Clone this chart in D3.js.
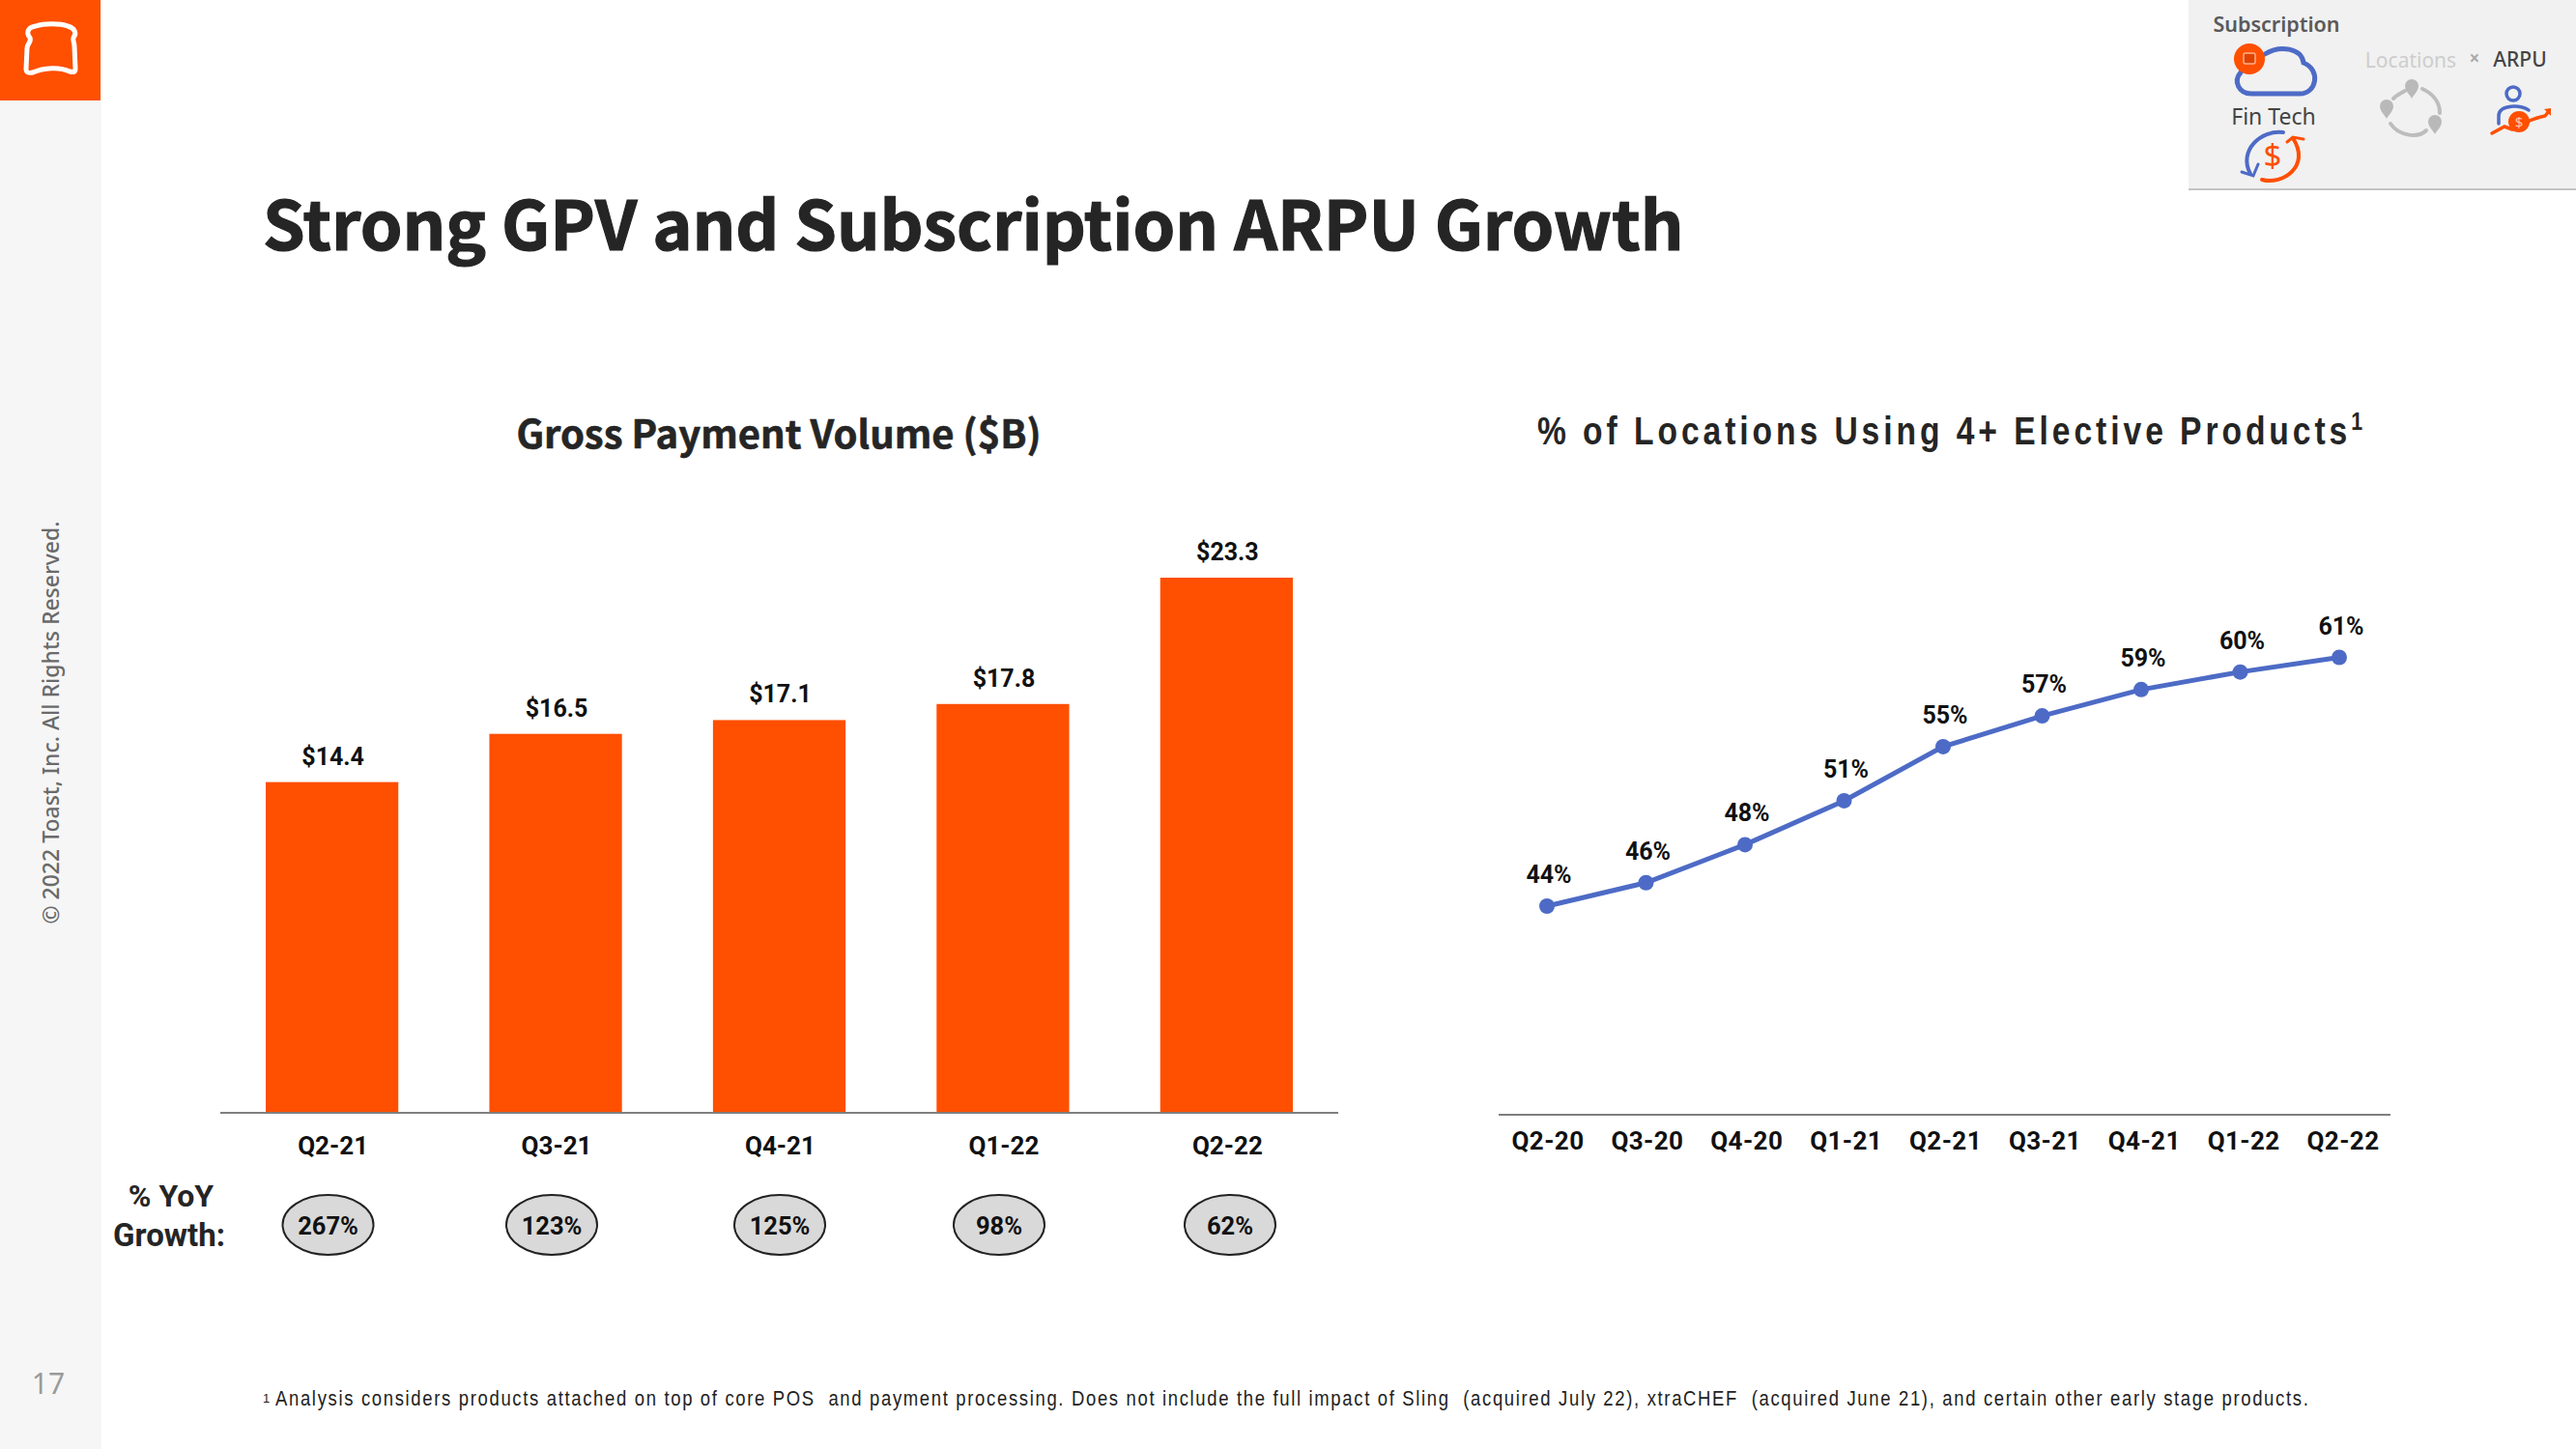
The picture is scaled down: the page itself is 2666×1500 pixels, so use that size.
<!DOCTYPE html>
<html><head><meta charset="utf-8">
<script src="https://cdn.jsdelivr.net/npm/d3@7"></script>
<style>html,body{margin:0;padding:0;background:#fff;overflow:hidden}svg{display:block}</style></head>
<body><svg id="c" width="2666" height="1500"></svg>
<script>
const barCategories=["Q2-21","Q3-21","Q4-21","Q1-22","Q2-22"];
const gpvValues=[14.4,16.5,17.1,17.8,23.3];
const yoyLabels=["267%","123%","125%","98%","62%"];
const lineCategories=["Q2-20","Q3-20","Q4-20","Q1-21","Q2-21","Q3-21","Q4-21","Q1-22","Q2-22"];
const lineValues=[44,45.6,48.2,51.2,54.9,57,58.8,60,61];
const lineLabels=["44%","46%","48%","51%","55%","57%","59%","60%","61%"];

const svg=d3.select("#c");
const ORANGE="#ff4f00",BLUE="#4d6bc6",DARK="#252525";
const SRC="Noto Sans CJK SC";
const txt=(x,y,s,size,o={})=>svg.append("text").attr("x",x).attr("y",y).text(s)
  .attr("font-family",o.font||"Roboto").attr("font-size",size).attr("font-weight",o.w||700)
  .attr("fill",o.fill||"#111").attr("text-anchor",o.a||"middle")
  .attr("letter-spacing",o.ls||null).attr("transform",o.tr||null);

// frame
svg.append("rect").attr("x",0).attr("y",0).attr("width",105).attr("height",1500).attr("fill","#f6f6f6");
svg.append("rect").attr("x",0).attr("y",0).attr("width",104).attr("height",104).attr("fill",ORANGE);
svg.append("path").attr("d","M31 39 C26 33 30 28 37 27 C46 24 62 24 70 27 C77 29 80 34 76 39 C75 42 77 44 77 48 L78 71 C78 75 76 75 72 74 C62 69 45 70 34 75 C29 76 27 75 27 71 L28 50 C28 45 33 43 31 39 Z")
  .attr("fill","none").attr("stroke","#fff").attr("stroke-width",5);
txt(50,1443,"17",30,{w:400,fill:"#9a9a9a",font:"Noto Sans"});
svg.append("text").attr("transform","translate(61,748) rotate(-90)").attr("text-anchor","middle")
  .attr("font-family","Noto Sans").attr("font-size",23).attr("font-weight",500).attr("fill","#6a6a6a").text("© 2022 Toast, Inc. All Rights Reserved.");

// title
txt(272,259,"Strong GPV and Subscription ARPU Growth",70,{a:"start",font:SRC,fill:DARK}).attr("stroke",DARK).attr("stroke-width",1.2);
txt(806,464,"Gross Payment Volume ($B)",40,{font:SRC,fill:DARK}).attr("stroke",DARK).attr("stroke-width",0.6);
const t2=txt(0,0,"% of Locations Using 4+ Elective Products",41,{a:"start",font:"Liberation Sans",fill:DARK,ls:"4.8",tr:"translate(1591,460) scale(.82,1)"});
t2.append("tspan").attr("font-size",26).attr("dy",-15).text("1");

// bars
const xb=d3.scaleBand().domain(barCategories).range([275,1338]).paddingInner(0.407).paddingOuter(0);
const yb=d3.scaleLinear().domain([0,23.3]).range([1152,598]);
svg.selectAll(".bar").data(gpvValues).enter().append("rect")
  .attr("x",(d,i)=>xb(barCategories[i])).attr("width",xb.bandwidth())
  .attr("y",d=>yb(d)).attr("height",d=>yb(0)-yb(d)).attr("fill",ORANGE);
svg.append("line").attr("x1",228).attr("x2",1385).attr("y1",1152).attr("y2",1152).attr("stroke","#7f7f7f").attr("stroke-width",2);
gpvValues.forEach((d,i)=>{
  const cx=xb(barCategories[i])+xb.bandwidth()/2;
  txt(cx+1,yb(d)-18,"$"+d.toFixed(1),25);
  txt(cx+1,1195,barCategories[i],26);
});
const ovalX=[339.5,571,807,1034,1273];
yoyLabels.forEach((s,i)=>{
  svg.append("ellipse").attr("cx",ovalX[i]).attr("cy",1268).attr("rx",47).attr("ry",31).attr("fill","#d9d9d9").attr("stroke","#222").attr("stroke-width",2);
  txt(ovalX[i],1278,s,25.5);
});
txt(177,1249,"% YoY",32,{fill:DARK});
txt(175,1290,"Growth:",33,{fill:DARK});

// line
const xl=d3.scalePoint().domain(lineCategories).range([1601,2421]);
const xlTick=d3.scalePoint().domain(lineCategories).range([1602,2425]);
const yl=d3.scaleLinear().domain([44,61]).range([938,680.5]);
const line=d3.line().x((d,i)=>xl(lineCategories[i])).y(d=>yl(d));
svg.append("path").attr("d",line(lineValues)).attr("fill","none").attr("stroke",BLUE).attr("stroke-width",5);
lineValues.forEach((d,i)=>{
  const cx=xl(lineCategories[i]);
  svg.append("circle").attr("cx",cx).attr("cy",yl(d)).attr("r",8).attr("fill",BLUE);
  txt(cx+2,yl(d)-24,lineLabels[i],25);
  txt(xlTick(lineCategories[i]),1190,lineCategories[i],26,{ls:"0.4"});
});
svg.append("line").attr("x1",1551).attr("x2",2474).attr("y1",1154).attr("y2",1154).attr("stroke","#7f7f7f").attr("stroke-width",2);

// footnote
txt(272,1452,"1",13,{a:"start",font:"Liberation Sans",w:400,fill:"#222"});
txt(0,0,"Analysis considers products attached on top of core POS  and payment processing. Does not include the full impact of Sling  (acquired July 22), xtraCHEF  (acquired June 21), and certain other early stage products.",21.5,{a:"start",font:"Liberation Sans",w:400,fill:"#222",ls:"1.93",tr:"translate(285,1455) scale(.86,1)"}).style("white-space","pre");

// top-right inset
svg.append("rect").attr("x",2265).attr("y",0).attr("width",401).attr("height",195).attr("fill","#f1f1f1");
svg.append("rect").attr("x",2265).attr("y",195).attr("width",401).attr("height",2).attr("fill","#c4c4c4");
txt(2356,33,"Subscription",21.5,{font:"Noto Sans",w:600,fill:"#5a5a5a"});
txt(2353,129,"Fin Tech",23,{font:"Noto Sans",w:400,fill:"#444"});
txt(2495,70,"Locations",21,{font:"Noto Sans",w:400,fill:"#cdcdcd"});
txt(2561,67,"×",19,{font:"Noto Sans",w:700,fill:"#aaa"});
txt(2608,69,"ARPU",21,{font:"Noto Sans",w:500,fill:"#444"});
const g=svg.append("g").attr("fill","none").attr("stroke-linecap","round");
g.append("path").attr("d","M2319 75 C2311 84 2317 97 2330 97 L2380 97 C2398 97 2402 72 2384 65 C2382 50 2360 46 2344 56").attr("stroke",BLUE).attr("stroke-width",5);
svg.append("circle").attr("cx",2328).attr("cy",61).attr("r",16).attr("fill",ORANGE);
svg.append("rect").attr("x",2322).attr("y",55).attr("width",12).attr("height",11).attr("rx",2).attr("fill","#e04300").attr("stroke","#ffb08a").attr("stroke-width",1.5);
g.append("path").attr("d","M2363 137 C2340 134 2316 156 2329 180").attr("stroke",BLUE).attr("stroke-width",4);
g.append("path").attr("d","M2320 178 L2332 182 L2337 170").attr("stroke",BLUE).attr("stroke-width",3);
g.append("path").attr("d","M2341 186 C2362 192 2392 172 2373 143").attr("stroke",ORANGE).attr("stroke-width",4);
g.append("path").attr("d","M2367 147 L2373 142 L2384 144").attr("stroke",ORANGE).attr("stroke-width",3);
txt(2352,173,"$",33,{font:"Noto Sans",w:400,fill:ORANGE});
g.append("path").attr("d","M2477 102 C2481 98 2486 96 2489 94").attr("stroke","#bdbdbd").attr("stroke-width",4);
g.append("path").attr("d","M2507 92 C2518 97 2525 106 2525 117").attr("stroke","#bdbdbd").attr("stroke-width",4);
g.append("path").attr("d","M2474 128 C2482 140 2502 144 2511 135").attr("stroke","#bdbdbd").attr("stroke-width",4);
[[2470,112],[2496,91],[2520,128]].forEach(p=>svg.append("path").attr("fill","#b9b9b9")
  .attr("transform",`translate(${p[0]},${p[1]})`).attr("d","M-7 -2 A7 7 0 1 1 7 -2 C7 3 2 7 0 11 C-2 7 -7 3 -7 -2 Z"));
g.append("circle").attr("cx",2601).attr("cy",97).attr("r",7).attr("stroke",BLUE).attr("stroke-width",3.5);
g.append("path").attr("d","M2586 128 L2586 120 C2586 108 2610 108 2617 114").attr("stroke",BLUE).attr("stroke-width",3.5);
g.append("path").attr("d","M2579 138 L2592 131 L2600 134 L2620 124 L2626 122 L2634 120 L2638 115").attr("stroke",ORANGE).attr("stroke-width",3.5);
svg.append("circle").attr("cx",2607).attr("cy",126).attr("r",11).attr("fill",ORANGE);
txt(2607,132,"$",15,{font:"Noto Sans",w:400,fill:"#ffc9ad"});
svg.append("path").attr("d","M2633 113 L2640 112 L2640 120 Z").attr("fill",ORANGE);
</script></body></html>
